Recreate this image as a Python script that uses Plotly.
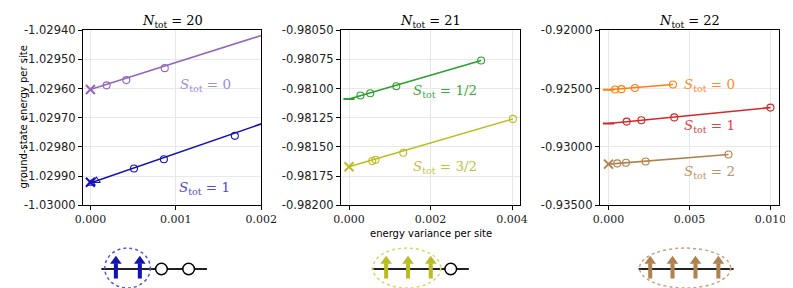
import plotly.graph_objects as go

W, H = 793, 288

# ---------------- data ----------------
# Panel 1 : N_tot = 20
n20_s0_var = [0.00019, 0.00042, 0.00087]
n20_s0_e = [-1.029589, -1.029571, -1.029530]
n20_s0_x_var = [0.0]
n20_s0_x_e = [-1.029603]
n20_s0_fit_var = [0.0, 0.002]
n20_s0_fit_e = [-1.029603, -1.029418]

n20_s1_var = [0.00051, 0.00086, 0.00169]
n20_s1_e = [-1.029874, -1.029842, -1.029762]
n20_s1_tri_var = [0.00001, 0.00007]
n20_s1_tri_e = [-1.029925, -1.029916]
n20_s1_x_var = [0.0]
n20_s1_x_e = [-1.029921]
n20_s1_fit_var = [0.0, 0.002]
n20_s1_fit_e = [-1.029924, -1.029721]

# Panel 2 : N_tot = 21
n21_s12_var = [0.00028, 0.00052, 0.00116, 0.00324]
n21_s12_e = [-0.98106, -0.98104, -0.98098, -0.98076]
n21_s12_ext_var = [0.0]
n21_s12_ext_e = [-0.98109]
n21_s12_fit_var = [0.0, 0.00324]
n21_s12_fit_e = [-0.98109, -0.98076]

n21_s32_var = [0.00057, 0.00065, 0.00133, 0.00402]
n21_s32_e = [-0.98162, -0.98161, -0.98155, -0.98126]
n21_s32_x_var = [0.0]
n21_s32_x_e = [-0.98167]
n21_s32_fit_var = [0.0, 0.00402]
n21_s32_fit_e = [-0.98167, -0.98126]

# Panel 3 : N_tot = 22
n22_s0_var = [0.0004, 0.0008, 0.00163, 0.00398]
n22_s0_e = [-0.92508, -0.92505, -0.92495, -0.92465]
n22_s0_ext_var = [0.0]
n22_s0_ext_e = [-0.92510]
n22_s0_fit_var = [0.0, 0.00398]
n22_s0_fit_e = [-0.92510, -0.92465]

n22_s1_var = [0.00112, 0.00203, 0.00406, 0.0100]
n22_s1_e = [-0.92783, -0.92772, -0.92747, -0.92663]
n22_s1_ext_var = [0.0]
n22_s1_ext_e = [-0.92799]
n22_s1_fit_var = [0.0, 0.0100]
n22_s1_fit_e = [-0.92799, -0.92663]

n22_s2_var = [0.00054, 0.00108, 0.00229, 0.00741]
n22_s2_e = [-0.93141, -0.93136, -0.93125, -0.93065]
n22_s2_x_var = [0.0]
n22_s2_x_e = [-0.93147]
n22_s2_fit_var = [0.0, 0.00741]
n22_s2_fit_e = [-0.93147, -0.93065]

# ticks
p1_xticks = [0.0, 0.001, 0.002]
p1_xticktext = ["0.000", "0.001", "0.002"]
p1_yticks = [-1.0294, -1.0295, -1.0296, -1.0297, -1.0298, -1.0299, -1.0300]
p1_yticktext = ["-1.02940", "-1.02950", "-1.02960", "-1.02970", "-1.02980", "-1.02990", "-1.03000"]
p2_xticks = [0.0, 0.002, 0.004]
p2_xticktext = ["0.000", "0.002", "0.004"]
p2_yticks = [-0.9805, -0.98075, -0.981, -0.98125, -0.9815, -0.98175, -0.982]
p2_yticktext = ["-0.98050", "-0.98075", "-0.98100", "-0.98125", "-0.98150", "-0.98175", "-0.98200"]
p3_xticks = [0.0, 0.005, 0.010]
p3_xticktext = ["0.000", "0.005", "0.010"]
p3_yticks = [-0.920, -0.925, -0.930, -0.935]
p3_yticktext = ["-0.92000", "-0.92500", "-0.93000", "-0.93500"]

titles = ["<i>N</i><sub>tot</sub> = 20", "<i>N</i><sub>tot</sub> = 21", "<i>N</i><sub>tot</sub> = 22"]

# chain diagrams: occupancy of the sites ("up" = spin up, "o" = empty site)
chain_n20 = ["up", "up", "o", "o"]
chain_n21 = ["up", "up", "up", "o"]
chain_n22 = ["up", "up", "up", "up"]

# ---------------- styles ----------------
PURPLE, PURPLE_T = "#9467bd", "#a98bd6"
BLUE, BLUE_T = "#1414b4", "#4b4bdc"
GREEN, GREEN_T = "#2ca02c", "#3aab3a"
OLIVE, OLIVE_T = "#bcbd22", "#c2c23a"
ORANGE, ORANGE_T = "#ff7f0e", "#ff8c2a"
RED, RED_T = "#d62728", "#e0404a"
BROWN, BROWN_T = "#b08250", "#bf9268"

SERIF = "'DejaVu Serif', 'Liberation Serif', serif"
SANS = "'DejaVu Sans', sans-serif"

fig = go.Figure()


def line(xs, ys, color, ax):
    fig.add_trace(go.Scatter(x=xs, y=ys, mode="lines", line=dict(color=color, width=1.6),
                             xaxis=ax[0], yaxis=ax[1], showlegend=False, hoverinfo="skip"))


def pts(xs, ys, color, ax, symbol, size=7, lw=1.1):
    fig.add_trace(go.Scatter(x=xs, y=ys, mode="markers",
                             marker=dict(symbol=symbol, size=size, color=color,
                                         line=dict(color=color, width=lw)),
                             xaxis=ax[0], yaxis=ax[1], showlegend=False))


A1, A2, A3 = ("x", "y"), ("x2", "y2"), ("x3", "y3")

line(n20_s0_fit_var, n20_s0_fit_e, PURPLE, A1)
pts(n20_s0_var, n20_s0_e, PURPLE, A1, "circle-open")
pts(n20_s0_x_var, n20_s0_x_e, PURPLE, A1, "x-thin-open", 9, 2)
line(n20_s1_fit_var, n20_s1_fit_e, BLUE, A1)
pts(n20_s1_var, n20_s1_e, BLUE, A1, "circle-open")
pts(n20_s1_tri_var, n20_s1_tri_e, BLUE, A1, "triangle-up-open", 7)
pts(n20_s1_x_var, n20_s1_x_e, BLUE, A1, "x-thin-open", 9, 2)

line(n21_s12_fit_var, n21_s12_fit_e, GREEN, A2)
pts(n21_s12_var, n21_s12_e, GREEN, A2, "circle-open")
pts(n21_s12_ext_var, n21_s12_ext_e, GREEN, A2, "line-ew-open", 8, 2)
line(n21_s32_fit_var, n21_s32_fit_e, OLIVE, A2)
pts(n21_s32_var, n21_s32_e, OLIVE, A2, "circle-open")
pts(n21_s32_x_var, n21_s32_x_e, OLIVE, A2, "x-thin-open", 9, 2)

line(n22_s0_fit_var, n22_s0_fit_e, ORANGE, A3)
pts(n22_s0_var, n22_s0_e, ORANGE, A3, "circle-open")
pts(n22_s0_ext_var, n22_s0_ext_e, ORANGE, A3, "line-ew-open", 8, 2)
line(n22_s1_fit_var, n22_s1_fit_e, RED, A3)
pts(n22_s1_var, n22_s1_e, RED, A3, "circle-open")
pts(n22_s1_ext_var, n22_s1_ext_e, RED, A3, "line-ew-open", 8, 2)
line(n22_s2_fit_var, n22_s2_fit_e, BROWN, A3)
pts(n22_s2_var, n22_s2_e, BROWN, A3, "circle-open")
pts(n22_s2_x_var, n22_s2_x_e, BROWN, A3, "x-thin-open", 9, 2)

# ---------------- axes ----------------
ydom = [1 - 200 / H, 1 - 16 / H]
xdoms = [[69 / W, 253 / W], [335 / W, 520 / W], [602 / W, 787 / W]]
xranges = [[-0.0000875, 0.002], [-0.0002, 0.0042], [-0.00054, 0.01054]]
yranges = [[-1.0300, -1.0294], [-0.9820, -0.9805], [-0.9350, -0.9200]]
xt = [(p1_xticks, p1_xticktext), (p2_xticks, p2_xticktext), (p3_xticks, p3_xticktext)]
yt = [(p1_yticks, p1_yticktext), (p2_yticks, p2_yticktext), (p3_yticks, p3_yticktext)]

common = dict(showline=True, linecolor="black", linewidth=1, mirror=True,
              ticks="outside", ticklen=4, tickwidth=1, tickcolor="black",
              showgrid=True, gridcolor="#e8e8e8", gridwidth=1, zeroline=False)
layout_axes = {}
for i in range(3):
    sfx = "" if i == 0 else str(i + 1)
    layout_axes["xaxis" + sfx] = dict(domain=xdoms[i], range=xranges[i], anchor="y" + sfx,
                                      tickmode="array", tickvals=xt[i][0], ticktext=xt[i][1],
                                      tickfont=dict(family=SERIF, size=11, color="#222"), **common)
    layout_axes["yaxis" + sfx] = dict(domain=ydom, range=yranges[i], anchor="x" + sfx,
                                      tickmode="array", tickvals=yt[i][0], ticktext=yt[i][1],
                                      tickfont=dict(family=SANS, size=11.5, color="#222"), **common)

annotations = []
centers = [(d[0] + d[1]) / 2 for d in xdoms]
for i in range(3):
    annotations.append(dict(text=titles[i], x=centers[i], y=1 - 7 / H, xref="paper", yref="paper",
                            showarrow=False, xanchor="center", yanchor="middle",
                            font=dict(family=SERIF, size=13, color="black")))

annotations.append(dict(text="ground-state energy per site", x=8 / W, y=1 - 107 / H, xref="paper",
                        yref="paper", showarrow=False, textangle=-90, xanchor="center", yanchor="middle",
                        font=dict(family=SANS, size=10, color="black")))
annotations.append(dict(text="energy variance per site", x=428 / W, y=1 - 230 / H, xref="paper",
                        yref="paper", showarrow=False, xanchor="center", yanchor="middle",
                        font=dict(family=SANS, size=10, color="black")))

labels = [
    ("<i>S</i><sub>tot</sub> = 0", 0.00102, -1.029589, PURPLE_T, "x", "y"),
    ("<i>S</i><sub>tot</sub> = 1", 0.00101, -1.029941, BLUE_T, "x", "y"),
    ("<i>S</i><sub>tot</sub> = 1/2", 0.00151, -0.98102, GREEN_T, "x2", "y2"),
    ("<i>S</i><sub>tot</sub> = 3/2", 0.00151, -0.98167, OLIVE_T, "x2", "y2"),
    ("<i>S</i><sub>tot</sub> = 0", 0.00453, -0.92473, ORANGE_T, "x3", "y3"),
    ("<i>S</i><sub>tot</sub> = 1", 0.00453, -0.92823, RED_T, "x3", "y3"),
    ("<i>S</i><sub>tot</sub> = 2", 0.00455, -0.93215, BROWN_T, "x3", "y3"),
]
for t, x, y, c, xr, yr in labels:
    annotations.append(dict(text=t, x=x, y=y, xref=xr, yref=yr, showarrow=False,
                            xanchor="left", yanchor="middle",
                            font=dict(family=SERIF, size=13.5, color=c)))

# ---------------- chain diagrams ----------------
shapes = []


def px(x):
    return x / W


def py(y):
    return 1 - y / H


LINE_Y = 267
diagrams = [
    (chain_n20, [103, 127.7, 150, 178], (88, 197), (115, 266, 47, 42), BLUE, "#4a5ae0"),
    (chain_n21, [381.7, 404.3, 427.7, 448.3], (367, 467), (403, 266, 70, 42), OLIVE, "#d6d66a"),
    (chain_n22, [654, 677, 700.7, 724.3], (642, 740), (690, 266, 94, 42), BROWN, "#c9a07c"),
]
for occ, xs, (l0, l1), (ecx, ecy, ew, eh), col, ecol in diagrams:
    shapes.append(dict(type="line", xref="paper", yref="paper", x0=px(l0), x1=px(l1),
                       y0=py(LINE_Y), y1=py(LINE_Y), line=dict(color="#222", width=1.8)))
    for s, x in zip(occ, xs):
        if s == "up":
            shapes.append(dict(type="rect", xref="paper", yref="paper", x0=px(x - 2.1), x1=px(x + 2.1),
                               y0=py(277), y1=py(261), fillcolor=col, line=dict(width=0)))
            shapes.append(dict(type="path", xref="paper", yref="paper",
                               path=f"M {px(x-6)},{py(261.5)} L {px(x+6)},{py(261.5)} L {px(x)},{py(253)} Z",
                               fillcolor=col, line=dict(width=0)))
        else:
            shapes.append(dict(type="circle", xref="paper", yref="paper", x0=px(x - 6), x1=px(x + 6),
                               y0=py(273), y1=py(261), fillcolor="white", line=dict(color="black", width=1.5)))
    shapes.append(dict(type="circle", xref="paper", yref="paper", x0=px(ecx - ew / 2), x1=px(ecx + ew / 2),
                       y0=py(ecy + eh / 2), y1=py(ecy - eh / 2),
                       line=dict(color=ecol, width=1.5, dash="dot")))

fig.update_layout(width=W, height=H, autosize=False, margin=dict(l=0, r=0, t=0, b=0),
                  plot_bgcolor="white", paper_bgcolor="white", showlegend=False,
                  annotations=annotations, shapes=shapes, **layout_axes)

fig.write_html("out.html")
